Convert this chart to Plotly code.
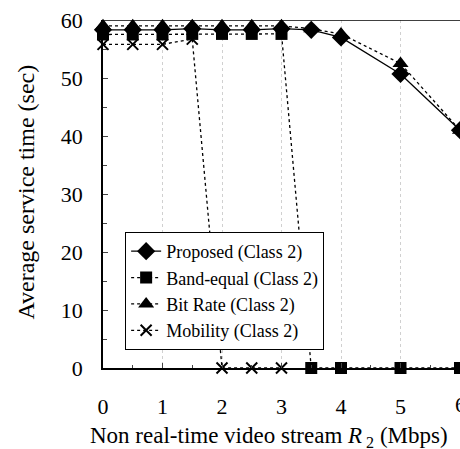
import plotly.graph_objects as go

x = [0, 0.5, 1, 1.5, 2, 2.5, 3, 3.5, 4, 5, 6]
proposed = [58.3, 58.3, 58.3, 58.5, 58.3, 58.3, 58.5, 58.3, 57.0, 50.7, 41.0]
band_equal = [57.5, 57.5, 57.5, 57.6, 57.6, 57.6, 57.6, 0, 0, 0, 0]
bit_rate = [59.0, 59.0, 59.0, 59.0, 59.0, 59.0, 59.0, 58.5, 57.6, 52.5, 41.0]
mobility = [55.8, 55.8, 55.8, 56.7, 0, 0, 0]
x_mob = [0, 0.5, 1, 1.5, 2, 2.5, 3]

names = ["Proposed (Class 2)", "Band-equal (Class 2)", "Bit Rate (Class 2)", "Mobility (Class 2)"]
x_ticks = [0, 1, 2, 3, 4, 5, 6]
x_title = "Non real-time video stream <i>R</i><sub> 2</sub> (Mbps)"
y_title = "Average service time (sec)"

font = "Liberation Serif"
fig = go.Figure()
series = [
    (x, proposed, "diamond", 14, "solid"),
    (x, band_equal, "square", 12, "dot"),
    (x, bit_rate, "triangle-up", 14, "dot"),
    (x_mob, mobility, "x-thin", 11, "dot"),
]
for (xs, ys, sym, sz, dash), nm in zip(series, names):
    fig.add_trace(go.Scatter(
        x=xs, y=ys, name=nm, mode="lines+markers", cliponaxis=False,
        line=dict(color="black", width=1.3, dash=dash),
        marker=dict(symbol=sym, size=sz, color="black",
                    line=dict(color="black", width=2 if sym == "x-thin" else 0)),
    ))

fig.update_layout(
    width=460, height=449,
    margin=dict(l=103, r=0, t=20, b=81),
    paper_bgcolor="white", plot_bgcolor="white",
    font=dict(family=font, size=22, color="black"),
    legend=dict(x=0.062, y=0.391, xanchor="left", yanchor="top",
                bordercolor="black", borderwidth=1, bgcolor="white",
                font=dict(family=font, size=18), tracegroupgap=0),
    showlegend=True,
)
fig.update_xaxes(
    range=[0, 6], tickvals=x_ticks, ticks="inside", ticklen=5,
    showline=True, linecolor="black", linewidth=1.5, mirror=False,
    showgrid=True, gridcolor="#d0d0d0", griddash="dot", gridwidth=1,
    zeroline=False, ticklabelstandoff=18,
    minor=dict(dtick=0.5, ticks="inside", ticklen=3, showgrid=False),
)
fig.update_yaxes(
    range=[0, 60], dtick=10, ticks="inside", ticklen=5,
    showline=True, linecolor="black", linewidth=1.5, mirror=False,
    showgrid=False, zeroline=False, ticklabelstandoff=14,
    minor=dict(dtick=5, ticks="inside", ticklen=4),
)
fig.add_shape(type="line", xref="paper", yref="y", x0=0, x1=1, y0=60, y1=60,
              line=dict(color="black", width=1.5))
fig.add_annotation(text=x_title, xref="paper", yref="paper", x=0.466, y=-0.198,
                   xanchor="center", yanchor="middle", showarrow=False,
                   font=dict(family=font, size=23))
fig.add_annotation(text=y_title, xref="paper", yref="paper", x=-0.215, y=0.505,
                   xanchor="center", yanchor="middle", showarrow=False, textangle=-90,
                   font=dict(family=font, size=24))
fig.add_annotation(text=str(x_ticks[-1]), xref="x", yref="paper", x=x_ticks[-1], y=-0.106,
                   xanchor="center", yanchor="middle", showarrow=False,
                   font=dict(family=font, size=22))
fig.write_html("out.html")
